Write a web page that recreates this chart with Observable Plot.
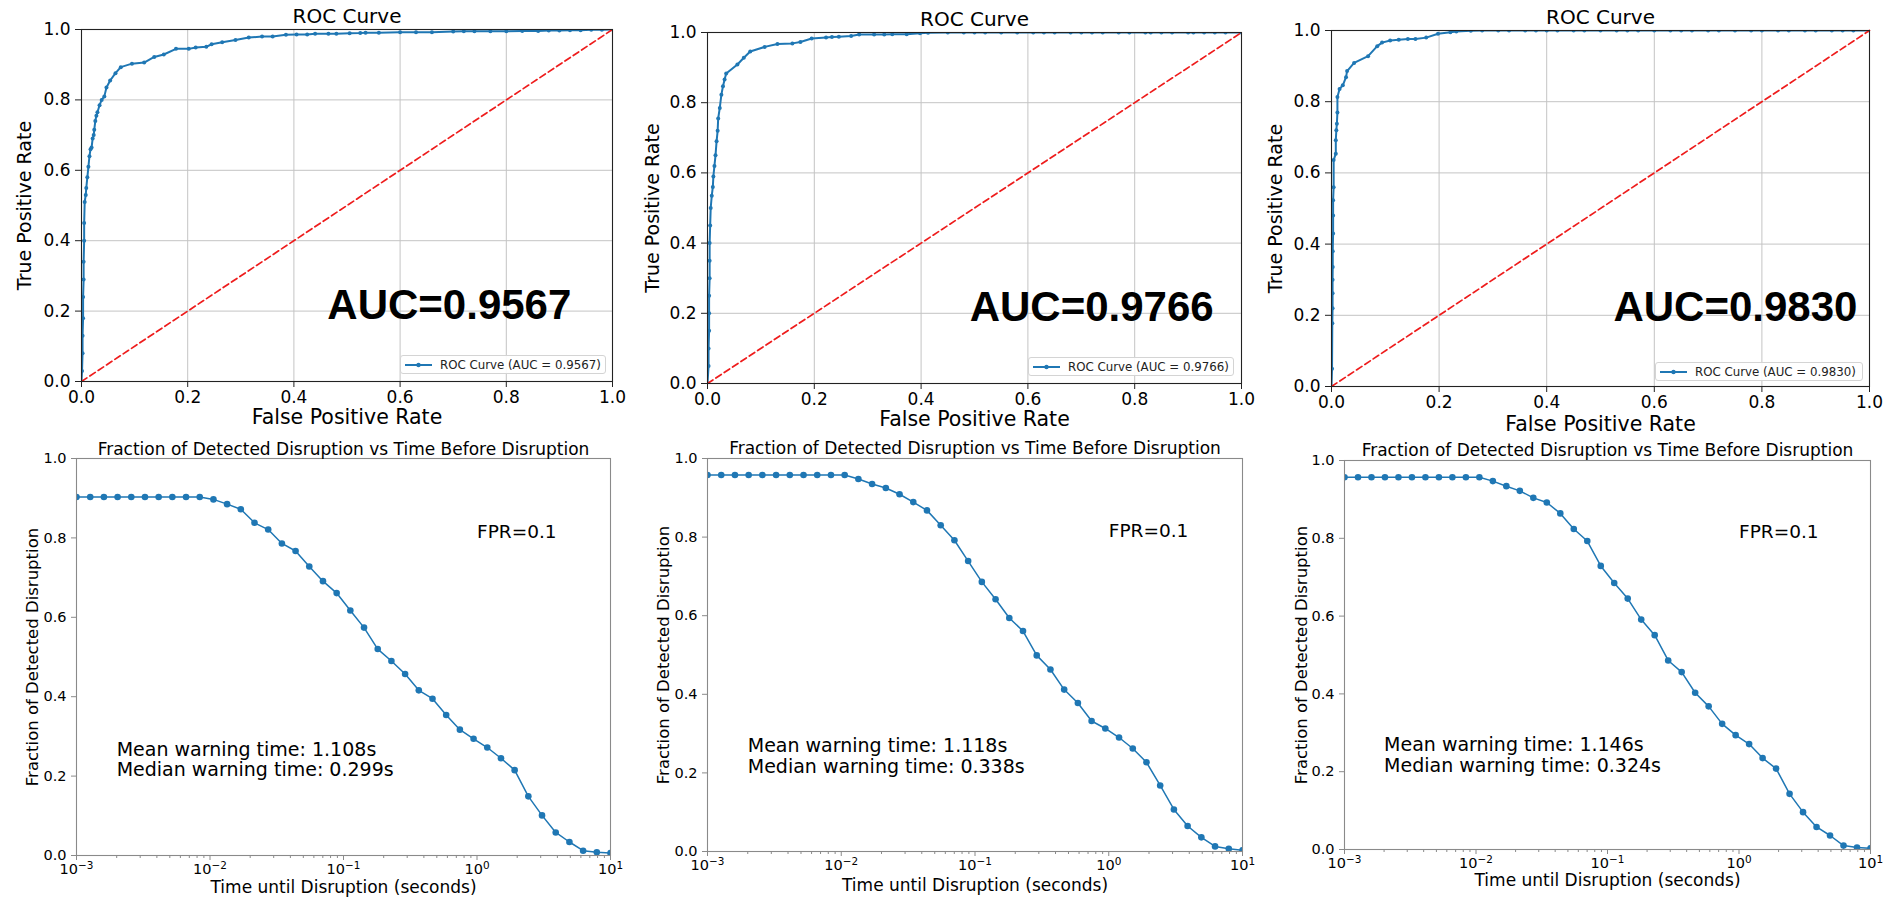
<!DOCTYPE html>
<html><head><meta charset="utf-8">
<script src="https://cdn.jsdelivr.net/npm/d3@7"></script>
<script src="https://cdn.jsdelivr.net/npm/@observablehq/plot@0.6"></script>
<style>
body{margin:0;background:#fff;}
#fig{position:relative;width:1901px;height:897px;overflow:hidden;background:#fff;font-family:"DejaVu Sans",sans-serif;}
.panel{position:absolute;}
.panel svg{max-width:none;overflow:visible;}
.legend{position:absolute;box-sizing:border-box;border:1px solid #d4d4d4;border-radius:3px;background:rgba(255,255,255,0.9);font-size:11.8px;color:#222;display:flex;align-items:center;white-space:nowrap;padding-left:4px;font-family:"DejaVu Sans",sans-serif;}
.legend svg{margin-right:8px;}
</style></head><body><div id="fig"></div><script>
// ---------- data ----------
const rocTicks = [0, 0.2, 0.4, 0.6, 0.8, 1.0];
const rocTitle = "ROC Curve";
const aucLabels = ["AUC=0.9567", "AUC=0.9766", "AUC=0.9830"];
const legendLabels = ["ROC Curve (AUC = 0.9567)", "ROC Curve (AUC = 0.9766)", "ROC Curve (AUC = 0.9830)"];

const fpr1 = [0, 0.001, 0.002, 0.002, 0.003, 0.003, 0.004, 0.004, 0.005, 0.005,
  0.006, 0.008, 0.009, 0.011, 0.013, 0.015, 0.017, 0.019, 0.021, 0.023,
  0.024, 0.026, 0.028, 0.030, 0.034, 0.038, 0.043, 0.047, 0.054, 0.064,
  0.074, 0.095, 0.118, 0.137, 0.155, 0.178, 0.202, 0.215, 0.235, 0.245,
  0.265, 0.29, 0.315, 0.34, 0.36, 0.385, 0.405, 0.425, 0.44, 0.465,
  0.48, 0.505, 0.525, 0.535, 0.56, 0.60, 0.63, 0.66, 0.70, 0.72,
  0.74, 0.77, 0.80, 0.83, 0.86, 0.88, 0.90, 0.92, 0.94, 0.96,
  0.98, 1.0];
const tpr1 = [0, 0.03, 0.08, 0.13, 0.18, 0.24, 0.29, 0.34, 0.40, 0.45,
  0.51, 0.53, 0.55, 0.58, 0.61, 0.64, 0.66, 0.665, 0.69, 0.70,
  0.715, 0.74, 0.755, 0.765, 0.785, 0.80, 0.81, 0.835, 0.855, 0.876,
  0.893, 0.903, 0.906, 0.922, 0.929, 0.945, 0.945, 0.949, 0.951, 0.958,
  0.964, 0.970, 0.977, 0.980, 0.980, 0.985, 0.986, 0.986, 0.988, 0.988,
  0.988, 0.989, 0.990, 0.991, 0.991, 0.992, 0.992, 0.992, 0.994, 0.995,
  0.995, 0.995, 0.995, 0.996, 0.996, 0.997, 0.997, 0.998, 0.998, 0.999,
  0.999, 1.0];

const fpr2 = [0, 0.002, 0.002, 0.003, 0.003, 0.003, 0.004, 0.004, 0.004, 0.005,
  0.006, 0.008, 0.010, 0.011, 0.013, 0.015, 0.017, 0.019, 0.020, 0.023,
  0.026, 0.029, 0.032, 0.035, 0.056, 0.068, 0.080, 0.107, 0.131, 0.159,
  0.174, 0.195, 0.222, 0.233, 0.246, 0.269, 0.284, 0.312, 0.331, 0.346,
  0.373, 0.398, 0.413, 0.45, 0.48, 0.50, 0.52, 0.55, 0.58, 0.61,
  0.63, 0.65, 0.68, 0.70, 0.72, 0.74, 0.77, 0.79, 0.82, 0.83,
  0.85, 0.87, 0.90, 0.91, 0.93, 0.95, 0.97, 1.0];
const tpr2 = [0, 0.05, 0.10, 0.15, 0.20, 0.25, 0.30, 0.35, 0.40, 0.45,
  0.50, 0.535, 0.56, 0.59, 0.62, 0.65, 0.69, 0.72, 0.755, 0.785,
  0.823, 0.847, 0.866, 0.883, 0.909, 0.928, 0.946, 0.959, 0.967, 0.969,
  0.973, 0.983, 0.986, 0.987, 0.988, 0.990, 0.994, 0.994, 0.994, 0.995,
  0.995, 0.998, 0.999, 1, 1, 1, 1, 1, 1, 1,
  1, 1, 1, 1, 1, 1, 1, 1, 1, 1,
  1, 1, 1, 1, 1, 1, 1, 1];

const fpr3 = [0, 0.001, 0.0015, 0.002, 0.002, 0.002, 0.0023, 0.0023, 0.003, 0.003,
  0.003, 0.004, 0.004, 0.008, 0.008, 0.009, 0.010, 0.011, 0.011, 0.015,
  0.021, 0.027, 0.029, 0.042, 0.068, 0.085, 0.094, 0.109, 0.125, 0.142,
  0.156, 0.176, 0.198, 0.221, 0.232, 0.259, 0.28, 0.31, 0.33, 0.36,
  0.38, 0.40, 0.42, 0.45, 0.47, 0.50, 0.53, 0.55, 0.57, 0.60,
  0.63, 0.65, 0.67, 0.70, 0.72, 0.75, 0.78, 0.80, 0.83, 0.85,
  0.88, 0.90, 0.93, 0.95, 0.97, 1.0];
const tpr3 = [0, 0.05, 0.178, 0.22, 0.262, 0.30, 0.336, 0.38, 0.43, 0.48,
  0.523, 0.56, 0.636, 0.654, 0.692, 0.72, 0.738, 0.77, 0.813, 0.836,
  0.846, 0.869, 0.886, 0.909, 0.928, 0.956, 0.966, 0.972, 0.974, 0.976,
  0.976, 0.980, 0.991, 0.995, 0.997, 0.999, 1, 1, 1, 1,
  1, 1, 1, 1, 1, 1, 1, 1, 1, 1,
  1, 1, 1, 1, 1, 1, 1, 1, 1, 1,
  1, 1, 1, 1, 1, 1];

const diagonal = [0, 1];

const times = [0.001, 0.001267, 0.001604, 0.002031, 0.002572, 0.003257, 0.004125, 0.005223, 0.006614, 0.008377,
  0.01061, 0.01343, 0.01701, 0.02154, 0.02728, 0.03455, 0.04375, 0.05541, 0.07017, 0.08886,
  0.1125, 0.1425, 0.1805, 0.2285, 0.2894, 0.3665, 0.4642, 0.5878, 0.7444, 0.9427,
  1.194, 1.512, 1.914, 2.424, 3.070, 3.888, 4.924, 6.236, 7.897, 10];
const frac1 = [0.903, 0.903, 0.903, 0.903, 0.903, 0.903, 0.903, 0.903, 0.903, 0.903,
  0.897, 0.885, 0.872, 0.838, 0.821, 0.786, 0.767, 0.728, 0.691, 0.661,
  0.617, 0.574, 0.520, 0.490, 0.457, 0.416, 0.395, 0.354, 0.317, 0.294,
  0.272, 0.245, 0.215, 0.149, 0.101, 0.058, 0.034, 0.012, 0.008, 0.006];
const frac2 = [0.958, 0.958, 0.958, 0.958, 0.958, 0.958, 0.958, 0.958, 0.958, 0.958,
  0.958, 0.948, 0.935, 0.925, 0.909, 0.889, 0.868, 0.830, 0.792, 0.739,
  0.686, 0.642, 0.594, 0.561, 0.499, 0.463, 0.412, 0.378, 0.332, 0.313,
  0.290, 0.262, 0.227, 0.168, 0.107, 0.065, 0.036, 0.013, 0.007, 0.003];
const frac3 = [0.957, 0.957, 0.957, 0.957, 0.957, 0.957, 0.957, 0.957, 0.957, 0.957,
  0.957, 0.947, 0.934, 0.922, 0.904, 0.892, 0.864, 0.824, 0.793, 0.729,
  0.685, 0.645, 0.591, 0.551, 0.486, 0.456, 0.403, 0.368, 0.323, 0.294,
  0.271, 0.235, 0.208, 0.143, 0.096, 0.058, 0.036, 0.010, 0.005, 0.003];

const fracTitle = "Fraction of Detected Disruption vs Time Before Disruption";
const fracYTicks = [0, 0.2, 0.4, 0.6, 0.8, 1.0];
const timeTicks = [0.001, 0.01, 0.1, 1, 10];
const timeTickBase = "10";
const timeTickExponents = ["\u22123", "\u22122", "\u22121", "0", "1"];
const fprLabel = "FPR=0.1";
const warningLabels = [
  "Mean warning time: 1.108s\nMedian warning time: 0.299s",
  "Mean warning time: 1.118s\nMedian warning time: 0.338s",
  "Mean warning time: 1.146s\nMedian warning time: 0.324s"
];

// ---------- layout ----------
const fig = document.getElementById("fig");
const BLUE = "#1f77b4";
const fmt1 = d3.format(".1f");
const SVGNS = "http://www.w3.org/2000/svg";

function place(svg, box) {
  const div = document.createElement("div");
  div.className = "panel";
  div.style.left = box.left + "px";
  div.style.top = box.top + "px";
  div.style.width = box.w + "px";
  div.style.height = box.h + "px";
  div.appendChild(svg);
  fig.appendChild(div);
}

function margins(box, fr) {
  return {
    marginLeft: fr[0] - box.left,
    marginRight: box.left + box.w - fr[1],
    marginTop: fr[2] - box.top,
    marginBottom: box.top + box.h - fr[3]
  };
}

function rocPanel(c) {
  const pts = c.fpr.map((f, i) => ({fpr: f, tpr: c.tpr[i]}));
  const svg = Plot.plot({
    width: c.box.w, height: c.box.h,
    ...margins(c.box, c.frame),
    x: {domain: [0, 1], label: null},
    y: {domain: [0, 1], label: null},
    style: {fontFamily: "DejaVu Sans", background: "transparent", color: "#000", overflow: "visible"},
    marks: [
      Plot.gridX({ticks: rocTicks, stroke: "#c4c4c4", strokeOpacity: 1, strokeWidth: 1}),
      Plot.gridY({ticks: rocTicks, stroke: "#c4c4c4", strokeOpacity: 1, strokeWidth: 1}),
      Plot.line(pts, {x: "fpr", y: "tpr", stroke: BLUE, strokeWidth: 2, clip: true}),
      Plot.dot(pts, {x: "fpr", y: "tpr", r: 2, fill: BLUE, clip: true}),
      Plot.line(diagonal, {x: d => d, y: d => d, stroke: "#ee1c1c", strokeWidth: 1.7, strokeDasharray: "6.5,3.5"}),
      Plot.frame({stroke: "#222", strokeWidth: 1.1}),
      Plot.axisX({ticks: rocTicks, tickFormat: fmt1, tickSize: 6, tickPadding: 3, fontSize: 17, stroke: "#222", label: null}),
      Plot.axisY({ticks: rocTicks, tickFormat: fmt1, tickSize: 6, tickPadding: 5, fontSize: 17, stroke: "#222", label: null}),
      Plot.text([rocTitle], {text: d => d, frameAnchor: "top", dy: c.titleDy, lineAnchor: "bottom", fontSize: 20}),
      Plot.text(["False Positive Rate"], {text: d => d, frameAnchor: "bottom", dy: c.xLabelDy, lineAnchor: "bottom", fontSize: 20.5}),
      Plot.text(["True Positive Rate"], {text: d => d, frameAnchor: "left", dx: c.yLabelDx, rotate: -90, lineAnchor: "bottom", textAnchor: "middle", fontSize: 19}),
      Plot.text([c.auc], {text: d => d, x: c.aucPos[0], y: c.aucPos[1], textAnchor: "start", lineAnchor: "bottom", fontSize: 42, fontWeight: "bold", fontFamily: "Liberation Sans", fill: "#000"})
    ]
  });
  place(svg, c.box);
  // legend (HTML overlay)
  const lg = document.createElement("div");
  lg.className = "legend";
  lg.style.left = c.legend[0] + "px";
  lg.style.top = c.legend[1] + "px";
  lg.style.width = c.legend[2] + "px";
  lg.style.height = c.legend[3] + "px";
  lg.innerHTML = `<svg width="27" height="10"><line x1="0" y1="5" x2="27" y2="5" stroke="${BLUE}" stroke-width="2"/><circle cx="13.5" cy="5" r="2.2" fill="${BLUE}"/></svg><span>${c.legendText}</span>`;
  fig.appendChild(lg);
}

const minorTimeTicks = timeTicks.slice(0, -1).flatMap(b => d3.range(2, 10).map(m => m * b));

function superscriptTicks(svg) {
  // turn "10|-3" tick labels into 10 with a raised exponent
  svg.querySelectorAll("text").forEach(t => {
    const s = t.textContent;
    if (s.indexOf("|") < 0) return;
    const [base, exp] = s.split("|");
    t.textContent = "";
    t.appendChild(document.createTextNode(base));
    const sup = document.createElementNS(SVGNS, "tspan");
    sup.setAttribute("dy", "-0.42em");
    sup.setAttribute("font-size", "0.72em");
    sup.textContent = exp;
    t.appendChild(sup);
  });
}

function fracPanel(c) {
  const pts = times.map((t, i) => ({t, f: c.frac[i]}));
  const svg = Plot.plot({
    width: c.box.w, height: c.box.h,
    ...margins(c.box, c.frame),
    x: {type: "log", domain: [0.001, 10], label: null},
    y: {domain: [0, 1], label: null},
    style: {fontFamily: "DejaVu Sans", background: "transparent", color: "#000", overflow: "visible"},
    marks: [
      Plot.line(pts, {x: "t", y: "f", stroke: BLUE, strokeWidth: 1.5, clip: true}),
      Plot.dot(pts, {x: "t", y: "f", r: 3.3, fill: BLUE, clip: true}),
      Plot.frame({stroke: "#8a8a8a", strokeWidth: 1.1}),
      Plot.axisX({ticks: minorTimeTicks, tickFormat: () => "", tickSize: 3, stroke: "#8a8a8a", label: null}),
      Plot.axisX({ticks: timeTicks, tickFormat: d => timeTickBase + "|" + timeTickExponents[timeTicks.indexOf(d)], tickSize: 5, tickPadding: 3, fontSize: 14.5, stroke: "#8a8a8a", label: null}),
      Plot.axisY({ticks: fracYTicks, tickFormat: fmt1, tickSize: 5, tickPadding: 5, fontSize: 14.5, stroke: "#8a8a8a", label: null}),
      Plot.text([fracTitle], {text: d => d, frameAnchor: "top", dy: c.titleDy, lineAnchor: "bottom", fontSize: 17}),
      Plot.text(["Time until Disruption (seconds)"], {text: d => d, frameAnchor: "bottom", dy: c.xLabelDy, lineAnchor: "bottom", fontSize: 17}),
      Plot.text(["Fraction of Detected Disruption"], {text: d => d, frameAnchor: "left", dx: c.yLabelDx, rotate: -90, lineAnchor: "bottom", textAnchor: "middle", fontSize: 16.5}),
      Plot.text([fprLabel], {text: d => d, x: 1, y: 0.8, textAnchor: "start", lineAnchor: "bottom", fontSize: 18.5}),
      Plot.text([c.warning], {text: d => d, x: 0.002, y: 0.2, textAnchor: "start", lineAnchor: "bottom", lineHeight: 1.08, fontSize: 19})
    ]
  });
  superscriptTicks(svg);
  place(svg, c.box);
}

rocPanel({fpr: fpr1, tpr: tpr1, auc: aucLabels[0], legendText: legendLabels[0],
  box: {left: 0, top: 0, w: 640, h: 440}, frame: [81, 612, 29, 381],
  titleDy: -7, xLabelDy: 42, yLabelDx: -51, aucPos: [0.463, 0.178], legend: [400, 355, 206, 19]});
rocPanel({fpr: fpr2, tpr: tpr2, auc: aucLabels[1], legendText: legendLabels[1],
  box: {left: 640, top: 0, w: 620, h: 440}, frame: [707, 1241, 32, 383],
  titleDy: -7, xLabelDy: 42, yLabelDx: -49, aucPos: [0.491, 0.179], legend: [1028, 357, 206, 19]});
rocPanel({fpr: fpr3, tpr: tpr3, auc: aucLabels[2], legendText: legendLabels[2],
  box: {left: 1260, top: 0, w: 641, h: 440}, frame: [1331, 1869, 30, 386],
  titleDy: -7, xLabelDy: 44, yLabelDx: -50, aucPos: [0.524, 0.185], legend: [1655, 362, 208, 19]});

fracPanel({frac: frac1, warning: warningLabels[0],
  box: {left: 0, top: 430, w: 640, h: 467}, frame: [76, 610, 458, 855],
  titleDy: -4, xLabelDy: 37, yLabelDx: -39});
fracPanel({frac: frac2, warning: warningLabels[1],
  box: {left: 640, top: 430, w: 620, h: 467}, frame: [707, 1242, 458, 851],
  titleDy: -5, xLabelDy: 39, yLabelDx: -39});
fracPanel({frac: frac3, warning: warningLabels[2],
  box: {left: 1260, top: 430, w: 641, h: 467}, frame: [1344, 1870, 460, 849],
  titleDy: -5, xLabelDy: 36, yLabelDx: -38});
</script></body></html>
